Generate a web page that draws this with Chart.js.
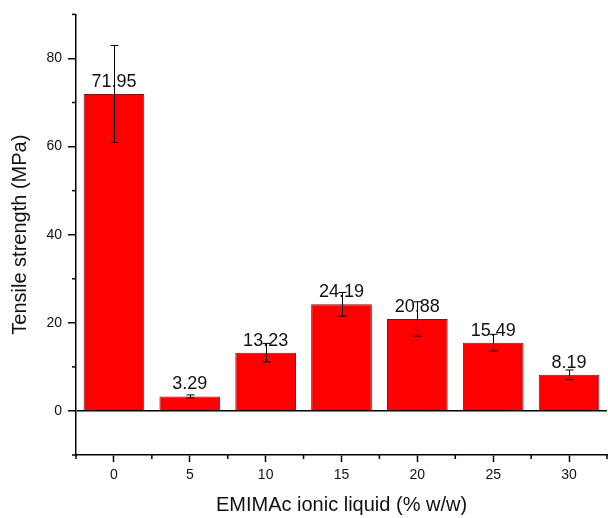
<!DOCTYPE html>
<html lang="en">
<head>
<meta charset="utf-8" />
<title>Tensile strength vs EMIMAc</title>
<script src="https://cdn.jsdelivr.net/npm/chart.js@4.4.0/dist/chart.umd.min.js"></script>
<style>
  html, body { margin: 0; padding: 0; background: #fff; overflow: hidden; }
  #wrap { position: absolute; left: 0; top: 0; width: 612px; height: 518px; }
</style>
</head>
<body>
<div id="wrap"><canvas id="chart" width="612" height="518"></canvas></div>
<script>
  // EMIMAc content (% w/w) and measured tensile strength
  const loadings = [0, 5, 10, 15, 20, 25, 30];
  const strength = [71.95, 3.29, 13.23, 24.19, 20.88, 15.49, 8.19];
  const strengthErr = [11, 0.35, 2.1, 2.7, 3.9, 1.9, 1.1];
  const valueLabels = ['71.95', '3.29', '13.23', '24.19', '20.88', '15.49', '8.19'];

  const xTickValues = [-2.5, 0, 2.5, 5, 7.5, 10, 12.5, 15, 17.5, 20, 22.5, 25, 27.5, 30, 32.5];
  const yTickValues = [-10, 0, 10, 20, 30, 40, 50, 60, 70, 80, 90];
  const xMajor = [0, 5, 10, 15, 20, 25, 30];
  const yMajor = [0, 20, 40, 60, 80];

  Chart.defaults.font.family = "'Liberation Sans', Arial, sans-serif";
  Chart.defaults.color = '#111';

  // minor ticks are shorter than the major ones, so they are drawn here
  const minorTicks = {
    id: 'minorTicks',
    afterDraw(chart) {
      const ctx = chart.ctx;
      const xs = chart.scales.x, ys = chart.scales.y;
      ctx.save();
      ctx.strokeStyle = '#000';
      ctx.lineWidth = 1.5;
      xTickValues.forEach(v => {
        if (xMajor.includes(v)) return;
        const px = xs.getPixelForValue(v);
        ctx.beginPath();
        ctx.moveTo(px, xs.top);
        ctx.lineTo(px, xs.top + 4);
        ctx.stroke();
      });
      yTickValues.forEach(v => {
        if (yMajor.includes(v)) return;
        const py = ys.getPixelForValue(v);
        ctx.beginPath();
        ctx.moveTo(ys.right, py);
        ctx.lineTo(ys.right - 4, py);
        ctx.stroke();
      });
      ctx.restore();
    }
  };

  // value labels above the bars, then the error bars over them
  const barExtras = {
    id: 'barExtras',
    afterDatasetsDraw(chart) {
      const ctx = chart.ctx;
      const xs = chart.scales.x, ys = chart.scales.y;
      ctx.save();
      ctx.font = "18px 'Liberation Sans', Arial, sans-serif";
      ctx.fillStyle = '#111';
      ctx.textAlign = 'center';
      ctx.textBaseline = 'alphabetic';
      loadings.forEach((x, i) => {
        ctx.fillText(valueLabels[i], xs.getPixelForValue(x), ys.getPixelForValue(strength[i]) - 7);
      });
      ctx.strokeStyle = '#000';
      ctx.lineWidth = 1;
      loadings.forEach((x, i) => {
        const px = Math.round(xs.getPixelForValue(x)) + 0.5;
        const top = ys.getPixelForValue(strength[i] + strengthErr[i]);
        const bot = ys.getPixelForValue(strength[i] - strengthErr[i]);
        ctx.beginPath();
        ctx.moveTo(px, top); ctx.lineTo(px, bot);
        ctx.moveTo(px - 4, top); ctx.lineTo(px + 4, top);
        ctx.moveTo(px - 4, bot); ctx.lineTo(px + 4, bot);
        ctx.stroke();
      });
      ctx.restore();
    }
  };

  new Chart(document.getElementById('chart'), {
    type: 'bar',
    data: {
      datasets: [{
        data: loadings.map((x, i) => ({ x: x, y: strength[i] })),
        backgroundColor: '#ff0000',
        borderColor: '#333',
        borderWidth: 1,
        // bar ruler uses the 2.5 tick spacing, so 1.6 gives 4 units wide
        barPercentage: 1.6,
        categoryPercentage: 1
      }]
    },
    options: {
      responsive: false,
      animation: false,
      layout: { padding: { top: 13, right: 2, left: 0, bottom: 0 } },
      plugins: { legend: { display: false }, tooltip: { enabled: false } },
      scales: {
        x: {
          type: 'linear',
          min: -2.5,
          max: 32.5,
          offset: false,
          afterBuildTicks: s => { s.ticks = xTickValues.map(v => ({ value: v })); },
          afterFit: s => { s.height = 63; },
          border: { color: '#000', width: 1.5 },
          grid: {
            offset: false,
            drawOnChartArea: false,
            tickLength: 7,
            tickWidth: 1.5,
            tickColor: c => xMajor.includes(c.tick.value) ? '#000' : 'rgba(0,0,0,0)'
          },
          ticks: {
            padding: 5,
            font: { size: 14 },
            color: '#111',
            maxRotation: 0,
            autoSkip: false,
            callback: v => xMajor.includes(v) ? String(v) : ''
          },
          title: {
            display: true,
            text: 'EMIMAc ionic liquid (% w/w)',
            font: { size: 20 },
            color: '#111',
            padding: { top: 0, bottom: 1 }
          }
        },
        y: {
          min: -10,
          max: 90,
          afterBuildTicks: s => { s.ticks = yTickValues.map(v => ({ value: v })); },
          afterFit: s => { s.width = 76; },
          border: { color: '#000', width: 1.5 },
          grid: {
            drawOnChartArea: true,
            lineWidth: 1.5,
            color: c => c.tick && c.tick.value === 0 ? '#000' : 'rgba(0,0,0,0)',
            tickLength: 8,
            tickWidth: 1.5,
            tickColor: c => yMajor.includes(c.tick.value) ? '#000' : 'rgba(0,0,0,0)'
          },
          ticks: {
            padding: 6,
            font: { size: 14 },
            color: '#111',
            autoSkip: false,
            callback: v => yMajor.includes(v) ? String(v) : ''
          },
          title: {
            display: true,
            text: 'Tensile strength (MPa)',
            font: { size: 20 },
            color: '#111',
            padding: { top: 8, bottom: 0 }
          }
        }
      }
    },
    plugins: [minorTicks, barExtras]
  });
</script>
</body>
</html>
